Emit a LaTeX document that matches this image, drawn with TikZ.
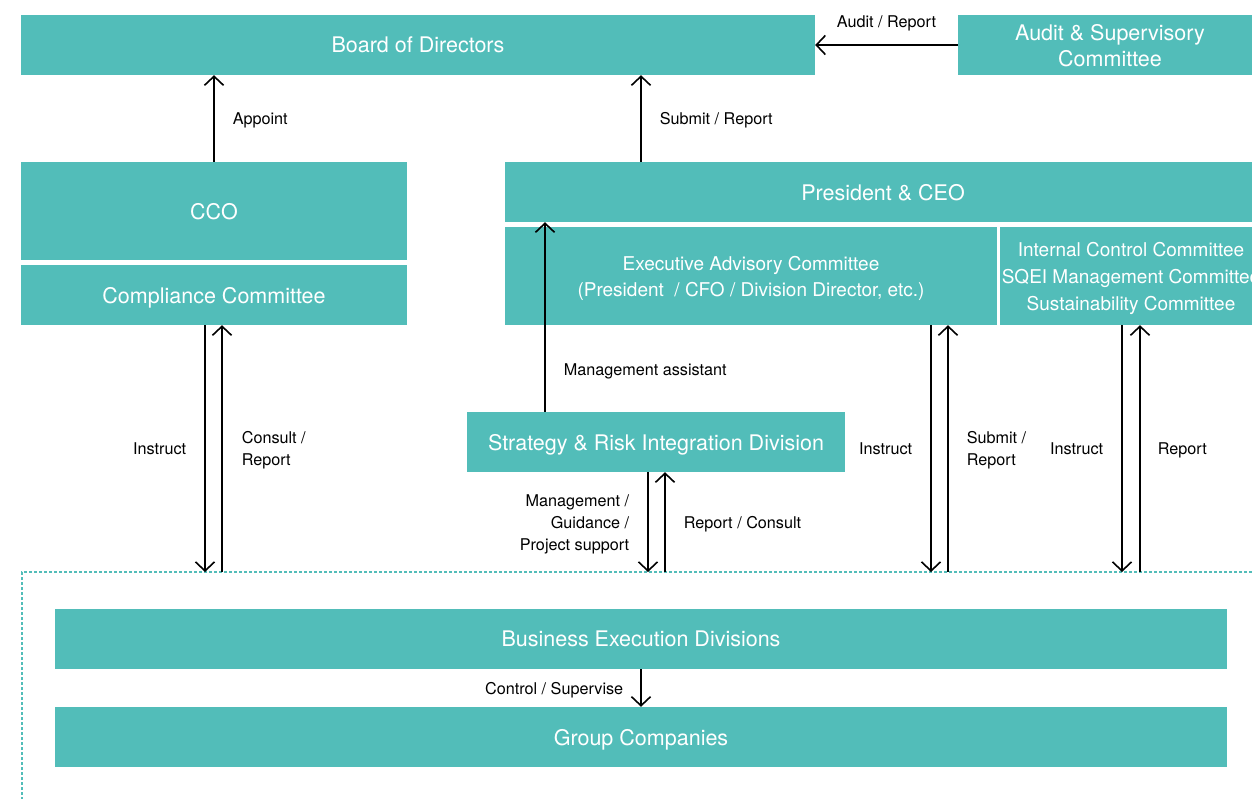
\documentclass[tikz,border=0pt]{standalone}
\usepackage{fontspec}
\setmainfont{TeX Gyre Heros}
\usetikzlibrary{arrows.meta, positioning}
\definecolor{teal}{RGB}{82,189,185}

\begin{document}
\begin{tikzpicture}[x=1pt, y=-1pt,
    box/.style={fill=teal, text=white, inner sep=0pt, align=center, text depth=0pt, font=\fontsize{21.5}{26}\selectfont},
    smallbox/.style={box, font=\fontsize{19}{27}\selectfont},
    arr/.style={-{Straight Barb[length=9pt, width=19pt]}, line width=1.6pt},
    lab/.style={inner sep=0pt, text depth=0pt, font=\fontsize{16.2}{22}\selectfont}]
    \useasboundingbox (0,0) rectangle (1252,799);
    \node[box, minimum width=794pt, minimum height=60pt] (board) at (418,45) {Board of Directors};
    \node[box, minimum width=304pt, minimum height=60pt] (audit) at (1110,45) {Audit \& Supervisory\\Committee};
    \node[box, minimum width=386pt, minimum height=98pt] (cco) at (214,211) {CCO};
    \node[box, minimum width=386pt, minimum height=60pt] (comp) at (214,295) {Compliance Committee};
    \node[box, minimum width=756pt, minimum height=60pt] (pres) at (883,192) {President \& CEO};
    \node[smallbox, minimum width=492pt, minimum height=98pt, font=\fontsize{19}{26}\selectfont] (exec) at (751,276) {Executive Advisory Committee\\(President~ / CFO / Division Director, etc.)};
    \node[smallbox, minimum width=262pt, minimum height=98pt] (icc) at (1131,276) {Internal Control Committee\\SQEI Management Committee\\Sustainability Committee};
    \node[box, minimum width=378pt, minimum height=60pt] (strat) at (656,442) {Strategy \& Risk Integration Division};
    \node[box, minimum width=1172pt, minimum height=60pt] (bed) at (641,639) {Business Execution Divisions};
    \node[box, minimum width=1172pt, minimum height=60pt] (group) at (641,737) {Group Companies};
    \coordinate (fr) at (22,572);
    \coordinate (sub) at (641,572);
    \coordinate (ma) at (545,572);
    \coordinate (c1) at (205,572);
    \coordinate (c2) at (222,572);
    \coordinate (s1) at (648,572);
    \coordinate (s2) at (665,572);
    \coordinate (e1) at (931,572);
    \coordinate (e2) at (948,572);
    \coordinate (i1) at (1122,572);
    \coordinate (i2) at (1140,572);
    \draw[teal, line width=1.2pt, dash pattern=on 3pt off 2pt] (1252,572) -- (fr) -- (22,799);
    \draw[arr] (audit.west) -- (board.east |- audit.west) node[lab, midway, yshift=23pt] {Audit / Report};
    \draw[arr] (cco.north) -- (cco.north |- board.south) node[lab, midway, right=18pt] {Appoint};
    \draw[arr] (pres.north -| sub) -- (board.south -| sub) node[lab, midway, right=18pt] {Submit / Report};
    \draw[arr] (strat.north -| ma) -- (pres.south -| ma) node[lab, pos=0.22, right=18pt] {Management assistant};
    \draw[arr] (comp.south -| c1) -- (c1) node[lab, midway, left=18pt] {Instruct};
    \draw[arr] (c2) -- (comp.south -| c2) node[lab, midway, right=19pt, align=left] {Consult /\\Report};
    \draw[arr] (strat.south -| s1) -- (s1) node[lab, midway, left=18pt, align=right] {Management /\\Guidance /\\Project support};
    \draw[arr] (s2) -- (strat.south -| s2) node[lab, midway, right=18pt] {Report / Consult};
    \draw[arr] (exec.south -| e1) -- (e1) node[lab, midway, left=18pt] {Instruct};
    \draw[arr] (e2) -- (exec.south -| e2) node[lab, midway, right=18pt, align=left] {Submit /\\Report};
    \draw[arr] (icc.south -| i1) -- (i1) node[lab, midway, left=18pt] {Instruct};
    \draw[arr] (i2) -- (icc.south -| i2) node[lab, midway, right=17pt] {Report};
    \draw[arr] (bed.south) -- (group.north) node[lab, midway, left=17pt] {Control / Supervise};
\end{tikzpicture}
\end{document}
